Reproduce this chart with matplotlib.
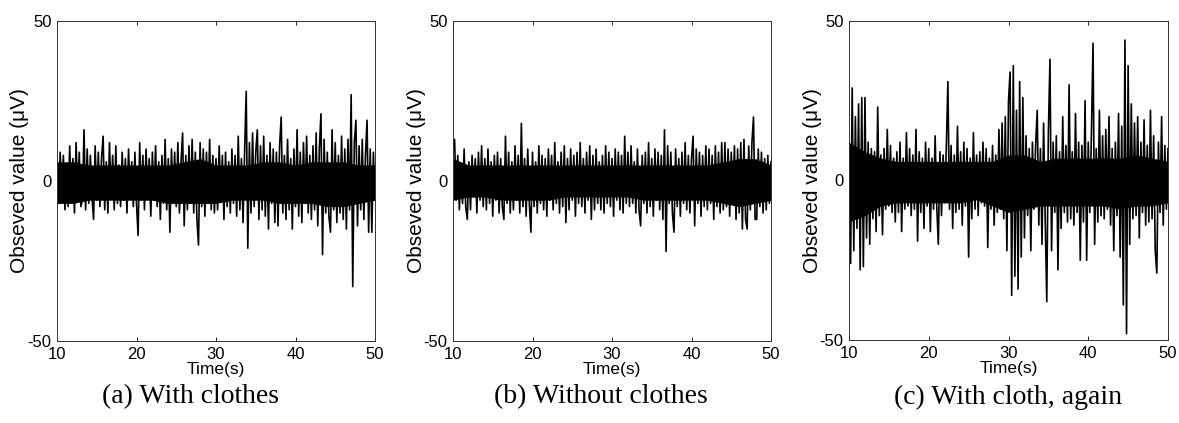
import matplotlib
matplotlib.use("Agg")
import matplotlib.pyplot as plt
import numpy as np

plt.rcParams["font.family"] = ["Liberation Sans", "DejaVu Sans"]
plt.rcParams["axes.unicode_minus"] = False

# ---------------- data ----------------
t_start = 10.0   # s
t_step = 0.2     # s between samples

sig_a = [
    6, -7, 9, -5, 8, -9, 4, -8, 11, -6,
    7, -10, 12, -4, 9, -8, -6, 16, -9, 10,
    -7, 8, -5, -12, 11, -6, 9, -8, 7, 14,
    -9, 6, -10, 12, -5, 8, -9, 11, -7, 5,
    -8, 9, -6, 7, -10, 10, -5, 6, -8, 9,
    -7, -17, 12, -6, 8, -9, 10, -5, 7, -11,
    9, -6, 11, -8, 6, -12, 8, -7, 13, -9,
    7, -16, 10, -6, 9, -8, 12, -10, 6, 15,
    -14, 8, -9, 11, -7, 13, -10, 9, -12, -20,
    12, -8, 10, -11, 9, -7, 13, -9, 8, -10,
    7, -9, 11, -6, 8, -12, 9, -8, 6, -10,
    10, -7, 8, -11, 14, -9, 7, -13, 9, 28,
    -21, 12, -10, 15, -8, 9, 16, -12, 11, -9,
    14, -11, 8, -15, 12, -7, 10, -13, 9, -14,
    11, 20, -10, 8, -12, 13, -9, 7, -15, 10,
    -8, 16, -11, 9, -13, 12, -7, 14, -10, 8,
    -12, 11, -9, 15, -14, 10, 21, -23, 13, -10,
    9, -11, -16, 16, -9, 12, -13, 8, -10, 14,
    -12, 10, -15, 13, -9, 27, -33, 12, 19, -14,
    11, -9, 13, -12, 8, 19, -16, 10, -16, 9,
    -6,
]

sig_b = [
    9, 13, -6, 8, -9, 5, -7, 10, -8, -12,
    6, -9, 8, -5, 7, -10, 9, -6, 11, -8,
    7, -9, 10, -7, 6, -11, 8, -6, 9, -10,
    7, -8, -12, 14, -7, 9, -10, 6, -9, 11,
    -6, 8, -10, 18, -8, 7, -11, 10, -7, -16,
    9, -8, 6, -10, 11, -7, 8, -9, 7, -11,
    10, -6, 8, -9, 12, -7, 6, -10, 9, -8,
    11, -13, 7, -9, 10, -6, 8, -11, 9, -7,
    12, -8, 7, -10, 9, -6, 11, -12, 8, -9,
    10, -7, 6, -9, 8, -10, 11, -7, 9, -8,
    7, -11, 10, -6, 9, -9, 8, -10, 14, -7,
    9, -8, 11, -7, 6, -10, 10, -9, -14, 8,
    -7, 9, -10, 12, -8, 7, -11, 10, -6, 9,
    -9, 8, -12, 16, -22, 11, -7, 9, -10, -16,
    10, -8, 7, -11, 9, -7, 12, -9, 8, -10,
    7, 14, -14, 10, -7, 9, -11, 8, -8, 11,
    -9, 10, -7, 8, -12, 11, -8, 9, -10, 12,
    -9, 12, -8, 10, -11, 9, -7, 11, -12, 10,
    -10, 12, -15, 13, -12, -15, 11, -9, 12, 20,
    -12, -12, 10, -8, 9, -10, 7, -9, 8, -7,
    6,
]

sig_c = [
    12, -26, 29, -22, 20, -15, 24, -28, 26, -27,
    26, -18, 12, -20, 10, -12, 9, -16, 23, -11,
    8, -17, 10, -9, 16, -8, 11, -10, 7, -13,
    9, -10, 12, -16, 7, -9, 15, -8, 10, -11,
    8, -9, 16, -19, 9, -10, 7, -15, 12, -8,
    10, -16, 7, -9, 14, -8, -20, 9, -11, 8,
    -7, 10, 31, -9, 11, -15, 8, -10, 17, -9,
    9, -14, 12, -8, 10, -24, 7, -12, 15, -9,
    8, -11, 9, -7, 12, -8, 10, -21, 7, -9,
    11, -14, 8, -10, 16, -9, 18, -12, 20, -22,
    25, 34, -36, 36, -30, 22, -34, 31, -24, 26,
    -18, 14, -11, 10, -22, 12, -9, 11, 22, -14,
    10, -20, 18, -12, -38, 15, 38, -22, 12, -10,
    14, -28, 9, -15, 20, -10, 11, -13, 30, -12,
    9, -14, 21, -10, 12, -25, 11, -13, 25, -25,
    12, -10, 15, 43, -20, 10, -13, 22, -11, 14,
    -12, 16, -9, 20, -14, 10, -22, 12, -11, 21,
    -24, 17, -39, 44, -48, 36, -20, 24, -12, 18,
    -11, 20, -18, 12, -10, 19, -14, 11, -13, 22,
    -12, 14, -22, -29, 12, -10, 20, -14, 11, -9,
    10,
]

# dense core band of each trace (upper / lower edge, every 2 s from 10 s to 50 s)
band_step = 2.0
core_upper_a = [6, 6, 5, 5, 5, 5, 5, 5, 6, 7, 5, 5, 5, 6, 6, 5, 6, 6, 6, 5, 5]
core_lower_a = [-7, -7, -6, -6, -6, -6, -6, -7, -7, -7, -7, -6, -6, -6, -7, -7, -7, -8, -8, -7, -6]
core_upper_b = [7, 5, 5, 5, 5, 5, 5, 5, 5, 5, 5, 5, 5, 5, 5, 5, 5, 6, 7, 7, 5]
core_lower_b = [-6, -5, -5, -6, -6, -6, -6, -5, -5, -5, -5, -5, -6, -6, -6, -6, -6, -7, -8, -7, -6]
core_upper_c = [12, 9, 7, 6, 6, 6, 6, 6, 6, 6, 8, 8, 6, 7, 7, 7, 7, 7, 8, 7, 6]
core_lower_c = [-13, -11, -8, -7, -7, -7, -7, -7, -6, -8, -10, -9, -8, -8, -8, -8, -8, -9, -8, -8, -7]

signals = [sig_a, sig_b, sig_c]
cores = [(core_upper_a, core_lower_a), (core_upper_b, core_lower_b), (core_upper_c, core_lower_c)]
captions = ["(a) With clothes", "(b) Without clothes", "(c) With cloth, again"]
x_ticks = [10, 20, 30, 40, 50]
y_ticks = [-50, 0, 50]
x_label = "Time(s)"
y_label = "Obseved value (\u03bcV)"

# ---------------- layout ----------------
W, H = 1179, 423
fig = plt.figure(figsize=(W / 100, H / 100), dpi=100)

axes_px = [(57, 21, 318, 320), (453, 21, 318, 320), (849, 21, 319, 319)]
caption_x = [190, 601, 1008]
caption_y = 397

for sig, (cu, cl), cap, (lx, ty, w, h), cx in zip(signals, cores, captions, axes_px, caption_x):
    ax = fig.add_axes([lx / W, (H - ty - h) / H, w / W, h / H])
    t = t_start + t_step * np.arange(len(sig))
    tb = t_start + band_step * np.arange(len(cu))
    ax.fill_between(tb, cl, cu, color="black", lw=0)
    ax.plot(t, sig, color="black", lw=1.2)
    ax.set_xlim(10, 50)
    ax.set_ylim(-50, 50)
    ax.set_xticks(x_ticks)
    ax.set_yticks(y_ticks)
    ax.tick_params(direction="in", length=3, width=0.6, top=True, right=True,
                   labelsize=12, pad=4, colors="black")
    for s in ax.spines.values():
        s.set_linewidth(0.7)
        s.set_color("#333333")
    ax.set_xlabel(x_label, fontsize=12.5, labelpad=0)
    ax.set_ylabel(y_label, fontsize=15)
    ax.yaxis.label.set_va("center")
    ax.yaxis.set_label_coords(-37 / w, 0.5)
    fig.text(cx / W, (H - caption_y) / H, cap, ha="center", va="center",
             fontsize=20, family=["Liberation Serif", "DejaVu Serif"])

fig.savefig("out.png", dpi=100)
